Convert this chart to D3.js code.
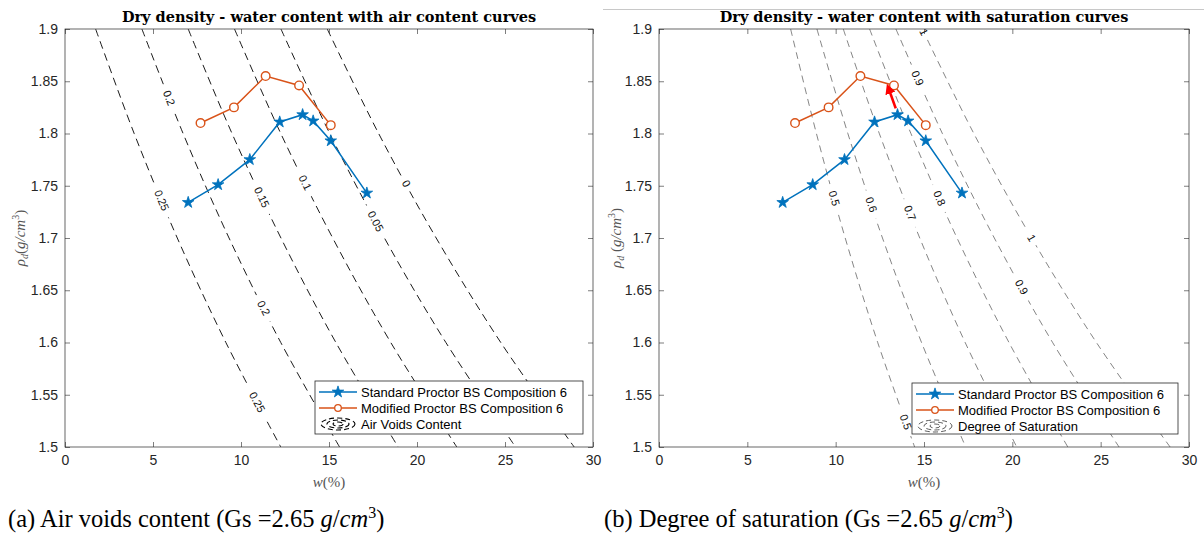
<!DOCTYPE html>
<html>
<head>
<meta charset="utf-8">
<script src="https://cdn.jsdelivr.net/npm/d3@7"></script>
<style>
  body { margin: 0; background: #fff; }
  svg { display: block; font-family: "Liberation Sans", Arial, sans-serif; }
</style>
</head>
<body>
<svg id="chart" width="1204" height="534"></svg>
<script>
// Proctor test points
const stdW   = [7.0, 8.7, 10.5, 12.2, 13.5, 14.1, 15.1, 17.15];
const stdRho = [1.734, 1.751, 1.775, 1.811, 1.818, 1.812, 1.793, 1.743];
const modW   = [7.7, 9.6, 11.4, 13.3, 15.1];
const modRho = [1.810, 1.825, 1.855, 1.846, 1.808];

// contour curves: water content (%) where each level crosses these densities
const curveRho = [1.9, 1.8, 1.7, 1.6, 1.5];
const airLevels = [0, 0.05, 0.1, 0.15, 0.2, 0.25];
const airW = [
  [14.90, 17.82, 21.09, 24.76, 28.93],
  [12.27, 15.04, 18.15, 21.64, 25.60],
  [9.63, 12.26, 15.21, 18.51, 22.26],
  [7.00, 9.49, 12.27, 15.39, 18.93],
  [4.37, 6.71, 9.32, 12.26, 15.60],
  [1.74, 3.93, 6.38, 9.14, 12.26]
];
const satLevels = [0.5, 0.6, 0.7, 0.8, 0.9, 1];
const satW = [
  [7.45, 8.91, 10.54, 12.38, 14.47],
  [8.94, 10.69, 12.65, 14.86, 17.36],
  [10.43, 12.47, 14.76, 17.33, 20.25],
  [11.92, 14.26, 16.87, 19.81, 23.14],
  [13.41, 16.04, 18.98, 22.28, 26.04],
  [14.90, 17.82, 21.09, 24.76, 28.93]
];

// contour labels: [level, density where the label sits]
const airLabels = [[0.25, 1.736], [0.25, 1.543], [0.2, 1.834], [0.2, 1.633],
                   [0.15, 1.739], [0.1, 1.753], [0.05, 1.716], [0, 1.752]];
const satLabels = [[0.5, 1.738], [0.5, 1.524], [0.6, 1.732], [0.7, 1.724], [0.8, 1.738],
                   [0.9, 1.853], [0.9, 1.653], [1, 1.897], [1, 1.70]];

// red arrow on the saturation plot
const arrowFrom = [13.4, 1.824];
const arrowTo   = [13.0, 1.843];

const xTicks = [0, 5, 10, 15, 20, 25, 30];
const yTicks = [1.5, 1.55, 1.6, 1.65, 1.7, 1.75, 1.8, 1.85, 1.9];

const blue = "#0072BD", orange = "#D95319", axisCol = "#262626";

const svg = d3.select("#chart");

// thin rule across the top of the right half
svg.append("line")
  .attr("x1", 603).attr("x2", 1204).attr("y1", 9.5).attr("y2", 9.5)
  .attr("stroke", "#c8c8c8").attr("stroke-width", 1);

const defs = svg.append("defs");

const panels = [
  {id: "a", left: 65, right: 593, top: 29, bottom: 447,
   title: "Dry density - water content with air content curves",
   levels: airLevels, curves: airW, labels: airLabels,
   dash: "8,5", lineCol: "#000", lineW: 0.9,
   ylab: ["(g/cm", ")"], legendText: "Air Voids Content",
   legend: {x: 315, y: 381, w: 268, h: 53},
   caption: "(a) Air voids content (Gs =2.65 ", capX: 8, ylabX: 25},
  {id: "b", left: 659, right: 1189, top: 29, bottom: 447,
   title: "Dry density - water content with saturation curves",
   levels: satLevels, curves: satW, labels: satLabels,
   dash: "7,5", lineCol: "#333", lineW: 0.6,
   ylab: [" (g/cm", ")"], legendText: "Degree of Saturation",
   legend: {x: 912, y: 383, w: 266, h: 51},
   caption: "(b) Degree of saturation (Gs =2.65 ", capX: 604, ylabX: 621, arrow: true}
];

panels.forEach(p => {
  const x = d3.scaleLinear().domain([0, 30]).range([p.left, p.right]);
  const y = d3.scaleLinear().domain([1.5, 1.9]).range([p.bottom, p.top]);
  const g = svg.append("g");

  // clip to the axes box
  defs.append("clipPath").attr("id", "clip-" + p.id)
    .append("rect")
    .attr("x", p.left).attr("y", p.top)
    .attr("width", p.right - p.left).attr("height", p.bottom - p.top);

  const line = d3.line().x(d => x(d[0])).y(d => y(d[1])).curve(d3.curveCatmullRom);

  // density -> water content on a given contour level
  const wOn = lvl => {
    const i = p.levels.indexOf(lvl);
    return d3.scaleLinear().domain(curveRho).range(p.curves[i]);
  };

  // label positions and angles
  const labs = p.labels.map(([lvl, rho]) => {
    const f = wOn(lvl);
    const cx = x(f(rho)), cy = y(rho);
    const ax = x(f(rho + 0.01)), ay = y(rho + 0.01);
    const bx = x(f(rho - 0.01)), by = y(rho - 0.01);
    const ang = Math.atan2(by - ay, bx - ax) * 180 / Math.PI;
    return {txt: String(lvl), cx, cy, ang};
  });

  // mask to break the lines under labels
  const mask = defs.append("mask").attr("id", "mask-" + p.id)
    .attr("maskUnits", "userSpaceOnUse")
    .attr("x", 0).attr("y", 0).attr("width", 1204).attr("height", 534);
  mask.append("rect").attr("width", 1204).attr("height", 534).attr("fill", "#fff");
  mask.selectAll("rect.gap")
    .data(labs)
    .join("rect")
    .attr("class", "gap")
    .attr("x", d => -(d.txt.length * 3.3 + 5))
    .attr("y", -6)
    .attr("width", d => 2 * (d.txt.length * 3.3 + 5))
    .attr("height", 12)
    .attr("fill", "#000")
    .attr("transform", d => `translate(${d.cx},${d.cy}) rotate(${d.ang})`);

  const plotArea = g.append("g").attr("clip-path", `url(#clip-${p.id})`);

  // contour lines
  plotArea.append("g")
    .attr("mask", `url(#mask-${p.id})`)
    .selectAll("path")
    .data(p.curves)
    .join("path")
    .attr("d", ws => line(ws.map((w, i) => [w, curveRho[i]])))
    .attr("fill", "none")
    .attr("stroke", p.lineCol)
    .attr("stroke-width", p.lineW)
    .attr("stroke-dasharray", p.dash);

  // contour labels
  plotArea.append("g")
    .selectAll("text")
    .data(labs)
    .join("text")
    .attr("transform", d => `translate(${d.cx},${d.cy}) rotate(${d.ang})`)
    .attr("text-anchor", "middle")
    .attr("dy", "0.35em")
    .attr("font-size", 11)
    .attr("fill", "#111")
    .text(d => d.txt);

  // axes (inward ticks all round)
  const ax = d3.axisBottom(x).tickValues(xTicks).tickSizeInner(-5).tickSizeOuter(0).tickPadding(8);
  const ay = d3.axisLeft(y).tickValues(yTicks).tickFormat(d => String(d)).tickSizeInner(-5).tickSizeOuter(0).tickPadding(7);
  const axT = d3.axisTop(x).tickValues(xTicks).tickSizeInner(-5).tickSizeOuter(0).tickFormat("");
  const ayR = d3.axisRight(y).tickValues(yTicks).tickSizeInner(-5).tickSizeOuter(0).tickFormat("");

  const axes = [
    g.append("g").attr("transform", `translate(0,${p.bottom})`).call(ax),
    g.append("g").attr("transform", `translate(${p.left},0)`).call(ay),
    g.append("g").attr("transform", `translate(0,${p.top})`).call(axT),
    g.append("g").attr("transform", `translate(${p.right},0)`).call(ayR)
  ];
  axes.forEach(a => {
    a.select(".domain").remove();
    a.selectAll(".tick line").attr("stroke", axisCol).attr("stroke-width", 0.6);
    a.selectAll(".tick text").attr("fill", axisCol).attr("font-size", 14)
      .attr("font-family", "Liberation Sans, Arial, sans-serif");
  });
  g.append("rect")
    .attr("x", p.left).attr("y", p.top)
    .attr("width", p.right - p.left).attr("height", p.bottom - p.top)
    .attr("fill", "none").attr("stroke", axisCol).attr("stroke-width", 0.7);

  // data series
  const stdPts = stdW.map((w, i) => [w, stdRho[i]]);
  const modPts = modW.map((w, i) => [w, modRho[i]]);
  const straight = d3.line().x(d => x(d[0])).y(d => y(d[1]));
  const star = d3.symbol().type(d3.symbolStar).size(42);

  g.append("path").attr("d", straight(stdPts))
    .attr("fill", "none").attr("stroke", blue).attr("stroke-width", 1.5);
  g.append("g").selectAll("path")
    .data(stdPts).join("path")
    .attr("d", star)
    .attr("transform", d => `translate(${x(d[0])},${y(d[1])})`)
    .attr("fill", blue).attr("stroke", blue).attr("stroke-width", 0.8);

  g.append("path").attr("d", straight(modPts))
    .attr("fill", "none").attr("stroke", orange).attr("stroke-width", 1.5);
  g.append("g").selectAll("circle")
    .data(modPts).join("circle")
    .attr("cx", d => x(d[0])).attr("cy", d => y(d[1])).attr("r", 4.3)
    .attr("fill", "#fff").attr("stroke", orange).attr("stroke-width", 1.4);

  // red arrow
  if (p.arrow) {
    defs.append("marker").attr("id", "head-" + p.id)
      .attr("viewBox", "0 0 10 10").attr("refX", 5).attr("refY", 5)
      .attr("markerWidth", 4).attr("markerHeight", 4).attr("orient", "auto")
      .append("path").attr("d", "M0,0L10,5L0,10Z").attr("fill", "#ff0000");
    g.append("line")
      .attr("x1", x(arrowFrom[0])).attr("y1", y(arrowFrom[1]))
      .attr("x2", x(arrowTo[0])).attr("y2", y(arrowTo[1]))
      .attr("stroke", "#ff0000").attr("stroke-width", 2.6)
      .attr("marker-end", `url(#head-${p.id})`);
  }

  // title
  g.append("text")
    .attr("x", (p.left + p.right) / 2).attr("y", 22)
    .attr("text-anchor", "middle")
    .attr("font-family", "DejaVu Serif, serif").attr("font-weight", "bold")
    .attr("font-size", 14.5).attr("fill", "#000")
    .text(p.title);

  // axis labels
  g.append("text")
    .attr("x", (p.left + p.right) / 2).attr("y", 487)
    .attr("text-anchor", "middle")
    .attr("font-family", "Liberation Serif, serif").attr("font-size", 15)
    .attr("fill", "#555")
    .call(t => {
      t.append("tspan").attr("font-style", "italic").text("w");
      t.append("tspan").text("(%)");
    });

  const yl = g.append("text")
    .attr("transform", `translate(${p.ylabX},${(p.top + p.bottom) / 2}) rotate(-90)`)
    .attr("text-anchor", "middle")
    .attr("font-family", "Liberation Serif, serif").attr("font-size", 15)
    .attr("fill", "#555");
  yl.append("tspan").attr("font-style", "italic").text("ρ");
  yl.append("tspan").attr("font-style", "italic").attr("font-size", 10).attr("dy", 3).text("d");
  yl.append("tspan").attr("dy", -3).text(p.ylab[0].replace("g/cm", ""));
  yl.append("tspan").attr("font-style", "italic").text("g/cm");
  yl.append("tspan").attr("font-size", 10).attr("dy", -6).text("3");
  yl.append("tspan").attr("dy", 6).text(p.ylab[1]);

  // legend
  const L = p.legend;
  const lg = g.append("g");
  lg.append("rect").attr("x", L.x).attr("y", L.y).attr("width", L.w).attr("height", L.h)
    .attr("fill", "#fff").attr("stroke", axisCol).attr("stroke-width", 0.8);
  const rows = [L.y + 11, L.y + 27, L.y + 43];
  const sx0 = L.x + 4, sx1 = L.x + 42, smid = (sx0 + sx1) / 2;
  lg.append("line").attr("x1", sx0).attr("x2", sx1).attr("y1", rows[0]).attr("y2", rows[0])
    .attr("stroke", blue).attr("stroke-width", 1.5);
  lg.append("path").attr("d", star).attr("transform", `translate(${smid},${rows[0]})`)
    .attr("fill", blue).attr("stroke", blue).attr("stroke-width", 0.8);
  lg.append("line").attr("x1", sx0).attr("x2", sx1).attr("y1", rows[1]).attr("y2", rows[1])
    .attr("stroke", orange).attr("stroke-width", 1.5);
  lg.append("circle").attr("cx", smid).attr("cy", rows[1]).attr("r", 3.3)
    .attr("fill", "#fff").attr("stroke", orange).attr("stroke-width", 1.3);
  // contour icon
  [[17, 6], [11, 4], [5, 2]].forEach(([rx, ry]) => {
    lg.append("ellipse").attr("cx", smid).attr("cy", rows[2]).attr("rx", rx).attr("ry", ry)
      .attr("fill", "none").attr("stroke", p.lineCol).attr("stroke-width", p.lineW + 0.2)
      .attr("stroke-dasharray", "5,3");
  });
  const names = ["Standard Proctor BS Composition 6", "Modified Proctor BS Composition 6", p.legendText];
  lg.selectAll("text.lt").data(names).join("text")
    .attr("class", "lt")
    .attr("x", sx1 + 4).attr("y", (d, i) => rows[i]).attr("dy", "0.35em")
    .attr("font-size", 13).attr("fill", "#000")
    .text(d => d);

  // caption below the panel
  const cap = svg.append("text")
    .attr("x", p.capX).attr("y", 527)
    .attr("font-family", "Liberation Serif, serif").attr("font-size", 24.5).attr("fill", "#000");
  cap.append("tspan").text(p.caption);
  cap.append("tspan").attr("font-style", "italic").text("g");
  cap.append("tspan").text("/");
  cap.append("tspan").attr("font-style", "italic").text("cm");
  cap.append("tspan").attr("font-size", 16).attr("dy", -9).text("3");
  cap.append("tspan").attr("dy", 9).text(")");
});
</script>
</body>
</html>
